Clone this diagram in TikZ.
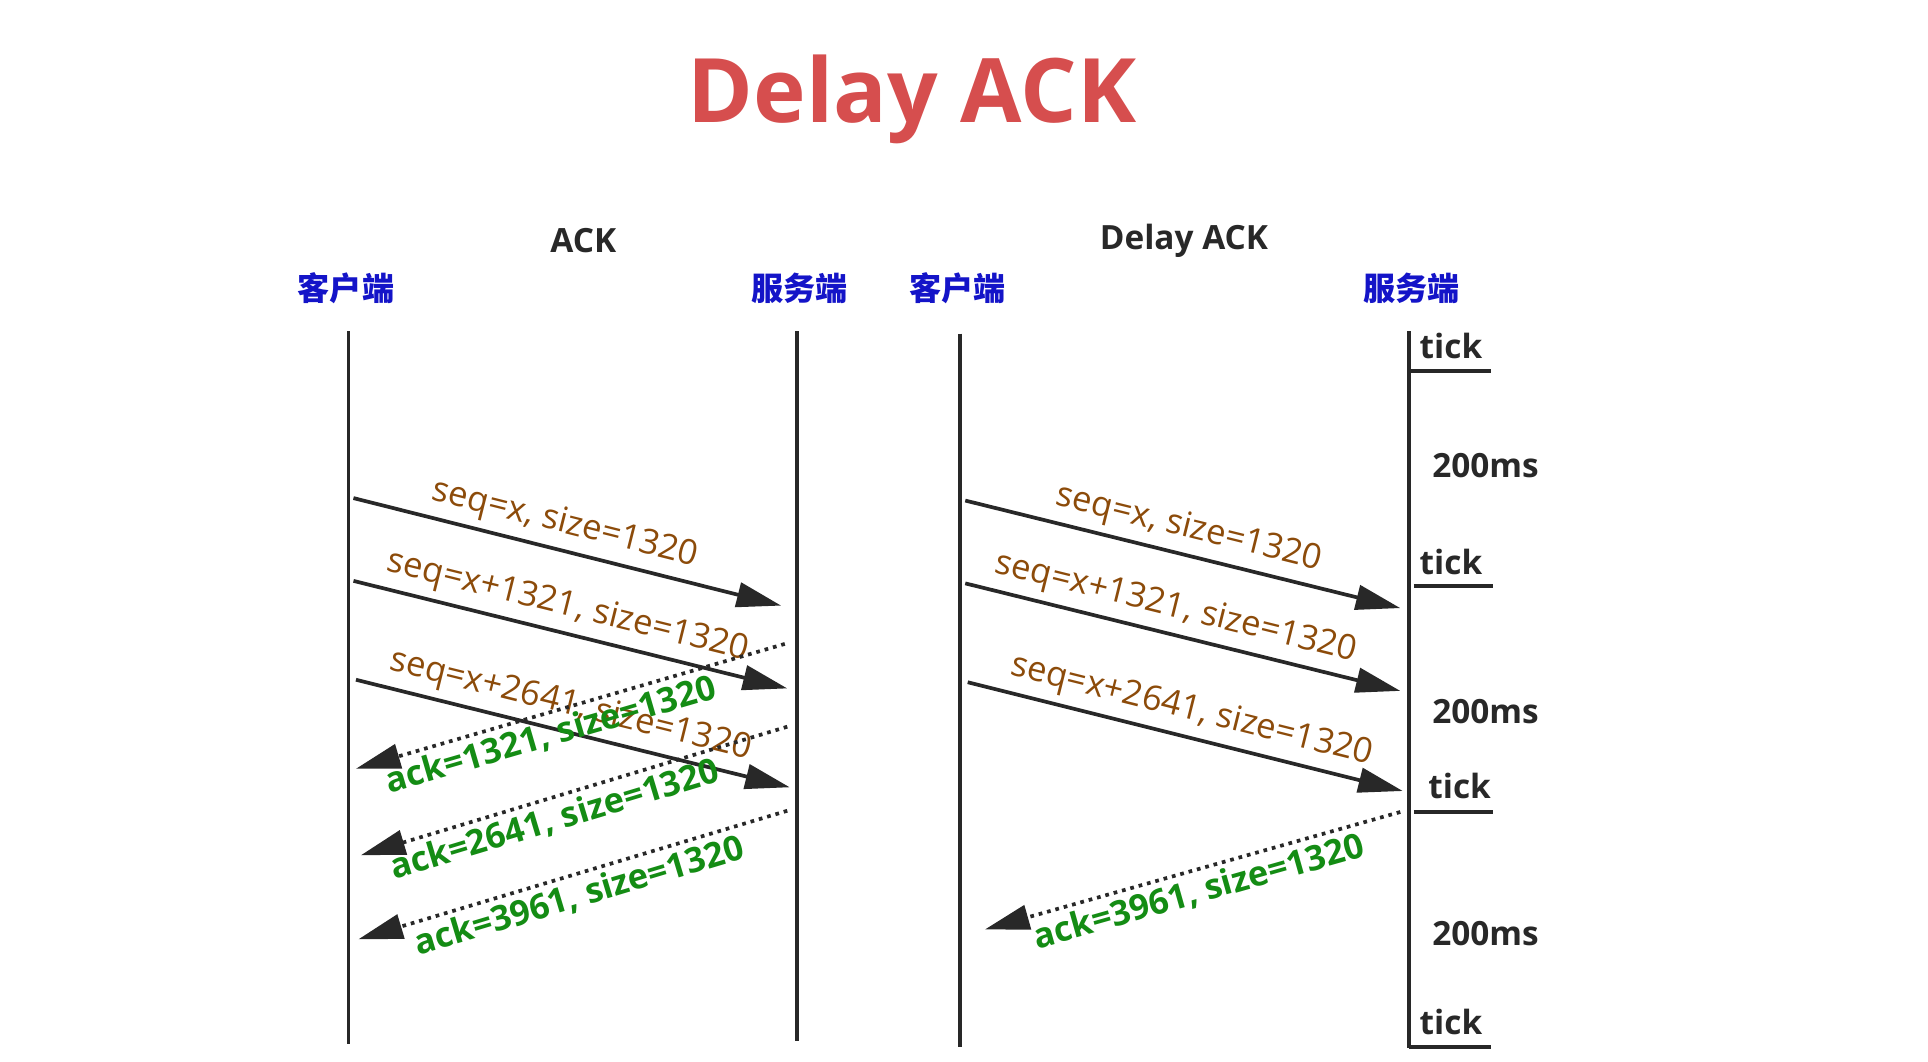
\documentclass[tikz,border=0pt]{standalone}
\usepackage{fontspec}
\setmainfont{Open Sans}
\newfontfamily\cjk{Noto Sans CJK SC}
\usetikzlibrary{arrows.meta}
\definecolor{ttl}{RGB}{214,78,78}
\definecolor{brn}{RGB}{140,75,10}
\definecolor{grn}{RGB}{20,140,20}
\definecolor{blu}{RGB}{20,20,200}
\definecolor{dk}{RGB}{40,40,40}
\tikzset{
  life/.style={line width=1.5pt,draw=dk},
  seqa/.style={line width=1.5pt,draw=dk,-{Triangle[length=18pt,width=10pt]}},
  acka/.style={line width=1.5pt,draw=dk,dotted,-{Triangle[length=18pt,width=10pt]}},
  seql/.style={text=brn,font=\fontsize{14}{16}\selectfont,sloped,above,pos=0.48,inner sep=3pt},
  ackl/.style={text=grn,font=\bfseries\fontsize{14}{16}\selectfont,sloped,below,pos=0.56,inner sep=2pt},
  hdr/.style={text=blu,font=\cjk\bfseries\fontsize{13}{15}\selectfont},
  sub/.style={text=dk,font=\bfseries\fontsize{13.5}{15}\selectfont},
  tk/.style={text=dk,font=\bfseries\fontsize{13.5}{15}\selectfont},
  tl/.style={line width=1.5pt,draw=dk},
}
\begin{document}
\begin{tikzpicture}[x=0.5pt,y=-0.5pt]
\useasboundingbox[fill=white] (0,0) rectangle (1560,859);
\node[text=ttl,font=\bfseries\fontsize{36}{40}\selectfont] (title) at (738,80) {Delay ACK};
\node[sub] (s1) at (472,195) {ACK};
\node[sub] (s2) at (958,195) {Delay ACK};
\node[hdr] (h1) at (280,233) {客户端};
\node[hdr] (h2) at (647,233) {服务端};
\node[hdr] (h3) at (775,233) {客户端};
\node[hdr] (h4) at (1142,233) {服务端};
\draw[life] (282,268) -- (282,845);
\draw[life] (645,268) -- (645,842);
\draw[life] (777,270) -- (777,847);
\draw[life] (1140,268) -- (1140,848);
% ticks
\node[tk] (t1) at (1174,280) {tick};
\draw[tl] (1140,300) -- (1206,300);
\node[tk] (t2) at (1174,455) {tick};
\draw[tl] (1144,474) -- (1208,474);
\node[tk] (t3) at (1181,636) {tick};
\draw[tl] (1144,657) -- (1208,657);
\node[tk] (t4) at (1174,827) {tick};
\draw[tl] (1140,847) -- (1206,847);
\node[tk] (m1) at (1202,377) {200ms};
\node[tk] (m2) at (1202,576) {200ms};
\node[tk] (m3) at (1202,755) {200ms};
% left
\coordinate (a1) at (286,403); \coordinate (b1) at (632,490);
\coordinate (a2) at (286,470); \coordinate (b2) at (637,557);
\coordinate (a3) at (288,550); \coordinate (b3) at (639,637);
\draw[seqa] (a1) -- node[seql] {seq=x, size=1320} (b1);
\draw[seqa] (a2) -- node[seql] {seq=x+1321, size=1320} (b2);
\draw[seqa] (a3) -- node[seql] {seq=x+2641, size=1320} (b3);
\coordinate (c1) at (635,521); \coordinate (d1) at (288,622);
\coordinate (c2) at (637,588); \coordinate (d2) at (292,692);
\coordinate (c3) at (637,656); \coordinate (d3) at (290,760);
\draw[acka] (c1) -- node[ackl] {ack=1321, size=1320} (d1);
\draw[acka] (c2) -- node[ackl] {ack=2641, size=1320} (d2);
\draw[acka] (c3) -- node[ackl,pos=0.5] {ack=3961, size=1320} (d3);
% right
\coordinate (e1) at (781,405); \coordinate (f1) at (1133,492);
\coordinate (e2) at (781,472); \coordinate (f2) at (1133,559);
\coordinate (e3) at (783,552); \coordinate (f3) at (1135,640);
\draw[seqa] (e1) -- node[seql,pos=0.5] {seq=x, size=1320} (f1);
\draw[seqa] (e2) -- node[seql,pos=0.47] {seq=x+1321, size=1320} (f2);
\draw[seqa] (e3) -- node[seql,pos=0.5] {seq=x+2641, size=1320} (f3);
\coordinate (g1) at (1133,657); \coordinate (k1) at (797,752);
\draw[acka] (g1) -- node[ackl,pos=0.5] {ack=3961, size=1320} (k1);
\end{tikzpicture}
\end{document}
